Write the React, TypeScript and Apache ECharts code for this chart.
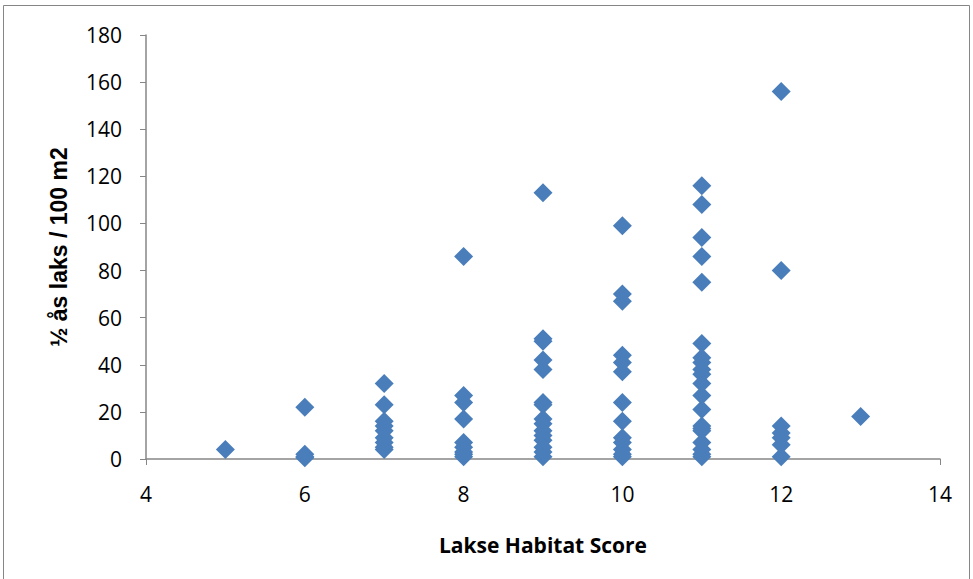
import React, { useEffect, useRef } from "react";
import * as echarts from "echarts";

const xTicks = [4, 6, 8, 10, 12, 14];
const yTicks = [0, 20, 40, 60, 80, 100, 120, 140, 160, 180];

const score5 = [4];
const score6 = [22, 2, 1, 0.5];
const score7 = [32, 23, 16, 14, 12, 9, 7, 5, 4];
const score8 = [86, 27, 24, 17, 7, 5, 3, 2, 1];
const score9 = [113, 51, 50, 42, 38, 24, 23, 17, 15, 12, 10, 8, 5, 3, 1];
const score10 = [99, 70, 67, 44, 41, 37, 24, 16, 9, 7, 4, 2, 1];
const score11 = [116, 108, 94, 86, 75, 49, 43, 41, 38, 36, 32, 27, 21, 14, 13, 12, 7, 4, 2, 1];
const score12 = [156, 80, 14, 11, 9, 6, 1];
const score13 = [18];

const columns: [number, number[]][] = [
  [5, score5], [6, score6], [7, score7], [8, score8], [9, score9],
  [10, score10], [11, score11], [12, score12], [13, score13],
];

export default function App() {
  const ref = useRef<HTMLDivElement>(null);
  useEffect(() => {
    if (!ref.current) return;
    const chart = echarts.init(ref.current, null, { renderer: "svg" });
    const data: number[][] = [];
    columns.forEach(([x, vals]) => vals.forEach((v) => data.push([x, v])));
    const font = "'Open Sans', sans-serif";
    chart.setOption({
      animation: false,
      backgroundColor: "#ffffff",
      graphic: [
        {
          type: "rect",
          shape: { x: 3.5, y: 5.5, width: 966, height: 600 },
          style: { fill: "none", stroke: "#868686", lineWidth: 1 },
          silent: true,
        },
      ],
      grid: { left: 146, right: 33, top: 35, bottom: 120 },
      xAxis: {
        type: "value",
        min: xTicks[0],
        max: xTicks[xTicks.length - 1],
        interval: 2,
        name: "Lakse Habitat Score",
        nameLocation: "middle",
        nameGap: 75,
        nameTextStyle: { fontFamily: font, fontWeight: "bold", fontSize: 21, color: "#000" },
        axisLine: { show: true, lineStyle: { color: "#868686", width: 1.5 } },
        axisTick: { show: true, inside: false, length: 6, lineStyle: { color: "#868686" } },
        axisLabel: { fontFamily: font, fontSize: 21, color: "#000", margin: 24 },
        splitLine: { show: false },
      },
      yAxis: {
        type: "value",
        min: yTicks[0],
        max: yTicks[yTicks.length - 1],
        interval: 20,
        name: "½ ås laks / 100 m2",
        nameLocation: "middle",
        nameGap: 76,
        nameTextStyle: { fontFamily: "'Liberation Sans', Arial, sans-serif", fontWeight: "bold", fontSize: 23, color: "#000" },
        axisLine: { show: true, lineStyle: { color: "#868686", width: 1.5 } },
        axisTick: { show: true, inside: false, length: 6, lineStyle: { color: "#868686" } },
        axisLabel: { fontFamily: font, fontSize: 21, color: "#000", margin: 24 },
        splitLine: { show: false },
      },
      series: [
        {
          type: "scatter",
          data,
          symbol: "diamond",
          symbolSize: 19,
          itemStyle: { color: "#4a7ebb", opacity: 1 },
        },
      ],
    });
    return () => chart.dispose();
  }, []);
  return (
    <div
      ref={ref}
      style={{ position: "absolute", left: 0, top: 0, width: 973, height: 579 }}
    />
  );
}
